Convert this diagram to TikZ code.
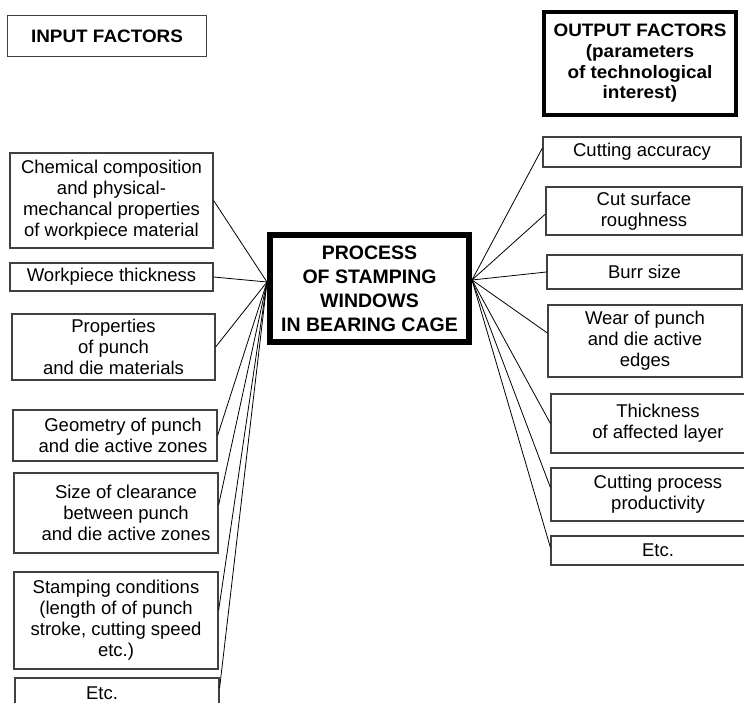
\documentclass[tikz,border=0pt]{standalone}
\usepackage{fontspec}
\setmainfont{Liberation Sans}
\newfontfamily\headfont[FakeStretch=1.05]{Liberation Sans}
\usepackage{tikz}
\usetikzlibrary{positioning}

\begin{document}
\begin{tikzpicture}[x=1pt, y=-1pt]
        \tikzstyle{every node}=[font=\fontsize{18.5}{21}\selectfont, align=center, inner sep=0pt]
        \tikzstyle{factor}=[rectangle, draw=black!75, line width=1.2pt]
        \tikzstyle{headbox}=[rectangle, draw=black, font=\headfont\bfseries\fontsize{18}{20.7}\selectfont]
        \tikzstyle{link}=[black, line width=0.8pt]
        \clip (0,0) rectangle (744,703) ;
        % headings
        \node[headbox, draw=black!75, line width=1.2pt, minimum width=199pt, minimum height=41pt] (infac) at (107,36) {INPUT FACTORS} ;
        \node[headbox, line width=4pt, minimum width=192pt, minimum height=103pt] (outfac) at (640,63.5) {OUTPUT FACTORS\\(parameters\\of technological\\interest)} ;
        % process
        \node[draw, line width=6pt, minimum width=199pt, minimum height=107pt,
          font=\bfseries\fontsize{19.5}{24}\selectfont] (proc) at (369.5,288.5) {PROCESS\\OF STAMPING\\WINDOWS\\IN BEARING CAGE} ;
        \coordinate (inhub) at ([yshift=6.5pt]proc.west) ;
        \coordinate (outhub) at ([yshift=8.5pt]proc.east) ;
        % input factors
        \node[factor, minimum width=203pt, minimum height=95pt] (chem) at (111.5,200.5) {Chemical composition\\and physical-\\mechancal properties\\of workpiece material} ;
        \node[factor, minimum width=203pt, minimum height=28pt] (thick) at (111.5,277) {Workpiece thickness} ;
        \node[factor, minimum width=203pt, minimum height=66pt] (mater) at (113.5,347) {Properties\\of punch\\and die materials} ;
        \node[factor, minimum width=204pt, minimum height=51pt] (geom) at (115,435.5) {\hspace*{16pt}Geometry of punch\\\hspace*{16pt}and die active zones} ;
        \node[factor, minimum width=204pt, minimum height=80pt] (clear) at (116,513) {\hspace*{20pt}Size of clearance\\\hspace*{20pt}between punch\\\hspace*{20pt}and die active zones} ;
        \node[factor, minimum width=204pt, minimum height=97pt] (cond) at (116,620.5) {Stamping conditions\\(length of of punch\\stroke, cutting speed\\etc.)} ;
        \node[factor, minimum width=204pt, minimum height=30pt] (inetc) at (117,693) {Etc.\hspace*{30pt}} ;
        % output factors
        \node[factor, minimum width=198pt, minimum height=30pt] (accur) at (642,152) {Cutting accuracy} ;
        \node[factor, minimum width=196pt, minimum height=48pt] (rough) at (644,211) {Cut surface\\roughness} ;
        \node[factor, minimum width=195pt, minimum height=34pt] (burr) at (644.5,272) {Burr size} ;
        \node[factor, minimum width=194pt, minimum height=72pt] (wear) at (645,341) {Wear of punch\\and die active\\edges} ;
        \node[factor, minimum width=214pt, minimum height=59pt] (layer) at (658,423.5) {Thickness\\of affected layer} ;
        \node[factor, minimum width=214pt, minimum height=53pt] (prod) at (658,494.5) {Cutting process\\productivity} ;
        \node[factor, minimum width=214pt, minimum height=29pt] (outetc) at (658,550.5) {Etc.} ;
        % links into the process
        \draw[link] (chem.east) -- (inhub) ;
        \draw[link] (thick.east) -- (inhub) ;
        \draw[link] (mater.east) -- (inhub) ;
        \draw[link] (geom.east) -- (inhub) ;
        \draw[link] ([yshift=8pt]clear.east) -- (inhub) ;
        \draw[link] ([yshift=10pt]cond.east) -- (inhub) ;
        \draw[link] ([yshift=5pt]inetc.east) -- (inhub) ;
        % links out of the process
        \draw[link] (outhub) -- ([yshift=4pt]accur.west) ;
        \draw[link] (outhub) -- ([yshift=-3pt]rough.west) ;
        \draw[link] (outhub) -- (burr.west) ;
        \draw[link] (outhub) -- ([yshift=8pt]wear.west) ;
        \draw[link] (outhub) -- (layer.west) ;
        \draw[link] (outhub) -- ([yshift=7pt]prod.west) ;
        \draw[link] (outhub) -- ([yshift=3pt]outetc.west) ;
      \end{tikzpicture}
\end{document}
